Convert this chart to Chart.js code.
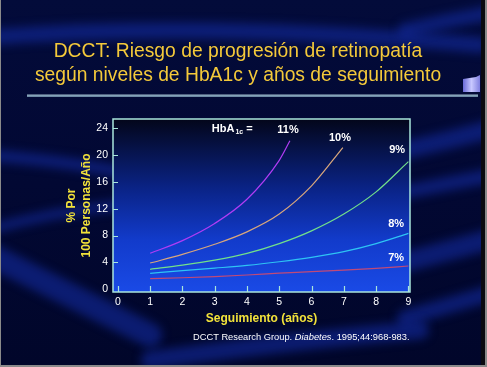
<!DOCTYPE html>
<html>
<head>
<meta charset="utf-8">
<script src="https://cdn.jsdelivr.net/npm/chart.js@4/dist/chart.umd.min.js"></script>
<style>
  html, body { margin: 0; padding: 0; background: #000; }
  canvas { display: block; }
</style>
</head>
<body>
<canvas id="c" width="487" height="367"></canvas>
<script>
// ---- data ----
const titleLines = ['DCCT: Riesgo de progresión de retinopatía', 'según niveles de HbA1c y años de seguimiento'];
const xAxisTitle = 'Seguimiento (años)';
const yAxisTitle = ['% Por', '100 Personas/Año'];
const xTicks = [0, 1, 2, 3, 4, 5, 6, 7, 8, 9];
const yTicks = [0, 4, 8, 12, 16, 20, 24];
const seriesNames = ['11%', '10%', '9%', '8%', '7%'];

const x11 = [1, 2, 3, 4, 5, 5.33];
const y11 = [5.36, 7.25, 9.8, 13.4, 19.2, 22.1];
const x10 = [1, 2, 3, 4, 5, 6, 6.97];
const y10 = [3.91, 5.2, 6.7, 8.55, 11.2, 15.4, 21.1];
const x9 = [1, 2, 3, 4, 5, 6, 7, 8, 9];
const y9 = [2.98, 3.6, 4.35, 5.35, 6.8, 8.7, 11.2, 14.5, 19.0];
const x8 = [1, 2, 3, 4, 5, 6, 7, 8, 9];
const y8 = [2.38, 2.78, 3.15, 3.55, 4.1, 4.76, 5.6, 6.8, 8.33];
const x7 = [1, 2, 3, 4, 5, 6, 7, 8, 9];
const y7 = [1.58, 1.72, 1.9, 2.13, 2.4, 2.62, 2.87, 3.13, 3.47];

const citationA = 'DCCT Research Group. ';
const citationB = 'Diabetes';
const citationC = '. 1995;44:968-983.';

// ---- build ----
const pts = (xs, ys) => xs.map((x, i) => ({ x: x, y: ys[i] }));
const FONT = "'Liberation Sans', Arial, Helvetica, sans-serif";
const lineColors = ['#b13cf5', '#d9a77c', '#72e08a', '#2ec4f4', '#c04a78'];
const seriesData = [pts(x11, y11), pts(x10, y10), pts(x9, y9), pts(x8, y8), pts(x7, y7)];

const decor = {
  id: 'decor',
  beforeDraw(chart) {
    const ctx = chart.ctx;
    const W = chart.width, H = chart.height;
    ctx.save();
    const bg = ctx.createLinearGradient(0, 0, 0, H);
    bg.addColorStop(0, '#030b3a');
    bg.addColorStop(0.5, '#020833');
    bg.addColorStop(1, '#01062a');
    ctx.fillStyle = bg;
    ctx.fillRect(0, 0, W, H);
    ctx.filter = 'blur(5px)';
    ctx.strokeStyle = 'rgba(20,45,170,0.55)';
    ctx.lineCap = 'round';
    const band = (w, p) => {
      ctx.lineWidth = w;
      ctx.beginPath();
      ctx.moveTo(p[0], p[1]);
      ctx.quadraticCurveTo(p[2], p[3], p[4], p[5]);
      ctx.stroke();
    };
    band(16, [-20, 38, 200, 20, 480, 45]);
    band(12, [-20, 155, 60, 160, 120, 172]);
    band(10, [-20, 232, 50, 212, 120, 205]);
    band(24, [-20, 250, 60, 290, 150, 335]);
    band(14, [405, 30, 450, 20, 495, 12]);
    band(18, [405, 150, 450, 140, 495, 128]);
    band(14, [405, 192, 450, 183, 495, 175]);
    band(20, [405, 262, 450, 250, 495, 238]);
    band(16, [405, 318, 450, 305, 495, 292]);
    band(18, [150, 360, 300, 340, 420, 330]);
    ctx.filter = 'none';
    ctx.fillStyle = '#0a0a10';
    ctx.fillRect(481, 0, 6, H);
    ctx.fillStyle = '#8a8a8a';
    ctx.fillRect(485, 0, 2, H);
    ctx.fillRect(0, H - 2, W, 2);
    ctx.fillRect(0, 0, 1, H);
    // title
    ctx.fillStyle = '#f4c93a';
    ctx.font = '19.3px ' + FONT;
    ctx.textAlign = 'center';
    ctx.textBaseline = 'middle';
    ctx.fillText(titleLines[0], 238, 52);
    ctx.fillText(titleLines[1], 238, 76);
    const ul = ctx.createLinearGradient(0, 94, 0, 98);
    ul.addColorStop(0, '#a8c4d4');
    ul.addColorStop(1, '#4a6a8a');
    ctx.fillStyle = ul;
    ctx.fillRect(27, 94.5, 451, 2.5);
    const cg = ctx.createLinearGradient(463, 0, 480, 0);
    cg.addColorStop(0, '#6a6ad8');
    cg.addColorStop(0.5, '#c8c8ff');
    cg.addColorStop(1, '#8080e0');
    ctx.fillStyle = cg;
    ctx.beginPath();
    ctx.moveTo(463, 79); ctx.lineTo(476, 77); ctx.lineTo(480, 75); ctx.lineTo(480, 92); ctx.lineTo(463, 92);
    ctx.closePath();
    ctx.fill();
    // plot area gradient
    const a = chart.chartArea;
    const pg = ctx.createLinearGradient(0, a.top, 0, a.bottom);
    pg.addColorStop(0, '#03061a');
    pg.addColorStop(0.4, '#0a2386');
    pg.addColorStop(0.7, '#123bcb');
    pg.addColorStop(1, '#1a4ae6');
    ctx.fillStyle = pg;
    ctx.fillRect(a.left, a.top, a.right - a.left, a.bottom - a.top);
    // citation, fitted to the reference width
    ctx.fillStyle = '#ffffff';
    ctx.textAlign = 'left';
    ctx.textBaseline = 'middle';
    const fit = (size) => {
      ctx.font = size + 'px ' + FONT;
      let w = ctx.measureText(citationA).width + ctx.measureText(citationC).width;
      ctx.font = 'italic ' + size + 'px ' + FONT;
      return w + ctx.measureText(citationB).width;
    };
    const size = 10 * 217 / fit(10);
    let cx = 193;
    ctx.font = size + 'px ' + FONT;
    ctx.fillText(citationA, cx, 337);
    cx += ctx.measureText(citationA).width;
    ctx.font = 'italic ' + size + 'px ' + FONT;
    ctx.fillText(citationB, cx, 337);
    cx += ctx.measureText(citationB).width;
    ctx.font = size + 'px ' + FONT;
    ctx.fillText(citationC, cx, 337);
    ctx.restore();
  },
  afterDatasetsDraw(chart) {
    const ctx = chart.ctx;
    const a = chart.chartArea;
    const xs = chart.scales.x, ys = chart.scales.y;
    ctx.save();
    ctx.strokeStyle = '#a9e6dc';
    ctx.lineWidth = 1.5;
    ctx.strokeRect(a.left, a.top, a.right - a.left, a.bottom - a.top);
    ctx.lineWidth = 1.2;
    ctx.beginPath();
    xTicks.forEach(v => {
      const px = Math.round(xs.getPixelForValue(v)) + 0.5;
      ctx.moveTo(px, a.bottom); ctx.lineTo(px, a.bottom - 6);
    });
    yTicks.forEach(v => {
      if (v === 0) return;
      const py = Math.round(ys.getPixelForValue(v)) + 0.5;
      ctx.moveTo(a.left, py); ctx.lineTo(a.left + 5, py);
    });
    ctx.stroke();
    ctx.fillStyle = '#ffffff';
    ctx.textBaseline = 'middle';
    const lab = (t, x, y, align) => {
      ctx.textAlign = align;
      ctx.fillText(t, xs.getPixelForValue(x), ys.getPixelForValue(y));
    };
    ctx.font = 'bold 11px ' + FONT;
    let hx = xs.getPixelForValue(2.91), hy = ys.getPixelForValue(23.8);
    ctx.textAlign = 'left';
    ctx.fillText('HbA', hx, hy);
    hx += ctx.measureText('HbA').width + 1;
    ctx.font = 'bold 7px ' + FONT;
    ctx.fillText('1c', hx, hy + 3);
    hx += ctx.measureText('1c').width + 3;
    ctx.font = 'bold 11px ' + FONT;
    ctx.fillText('=', hx, hy);
    lab(seriesNames[0], 5.27, 23.7, 'center');
    lab(seriesNames[1], 6.88, 22.56, 'center');
    lab(seriesNames[2], 8.65, 20.7, 'center');
    lab(seriesNames[3], 8.62, 9.72, 'center');
    lab(seriesNames[4], 8.62, 4.61, 'center');
    ctx.restore();
  }
};

new Chart(document.getElementById('c'), {
  type: 'line',
  data: {
    datasets: seriesNames.map((n, i) => ({
      label: n,
      data: seriesData[i],
      borderColor: lineColors[i],
      borderWidth: 1.2,
      pointRadius: 0,
      fill: false,
      cubicInterpolationMode: 'monotone'
    }))
  },
  options: {
    responsive: false,
    animation: false,
    events: [],
    layout: { padding: { left: 0, top: 119, right: 77, bottom: 0 } },
    plugins: { legend: { display: false }, tooltip: { enabled: false } },
    scales: {
      x: {
        type: 'linear',
        min: -0.15,
        max: 9.05,
        afterBuildTicks: s => { s.ticks = xTicks.map(v => ({ value: v })); },
        afterFit: s => { s.height = 75; },
        grid: { display: false, drawTicks: false },
        border: { display: false },
        ticks: { color: '#ffffff', font: { family: FONT, size: 10.5 }, padding: 4, maxRotation: 0, autoSkip: false },
        title: {
          display: true, text: xAxisTitle, color: '#f2e23a',
          font: { family: FONT, size: 12, weight: 'bold', lineHeight: 1.25 },
          padding: { top: 0, bottom: 40.5 }
        }
      },
      y: {
        type: 'linear',
        min: -0.4,
        max: 25.35,
        afterBuildTicks: s => { s.ticks = yTicks.map(v => ({ value: v })); },
        afterFit: s => { s.width = 113; },
        grid: { display: false, drawTicks: false },
        border: { display: false },
        ticks: { color: '#ffffff', font: { family: FONT, size: 10.5 }, padding: 5, autoSkip: false },
        title: {
          display: true, text: yAxisTitle, color: '#f2e23a',
          font: { family: FONT, size: 12, weight: 'bold', lineHeight: 1.25 },
          padding: { top: 64, bottom: 0 }
        }
      }
    }
  },
  plugins: [decor]
});
</script>
</body>
</html>
